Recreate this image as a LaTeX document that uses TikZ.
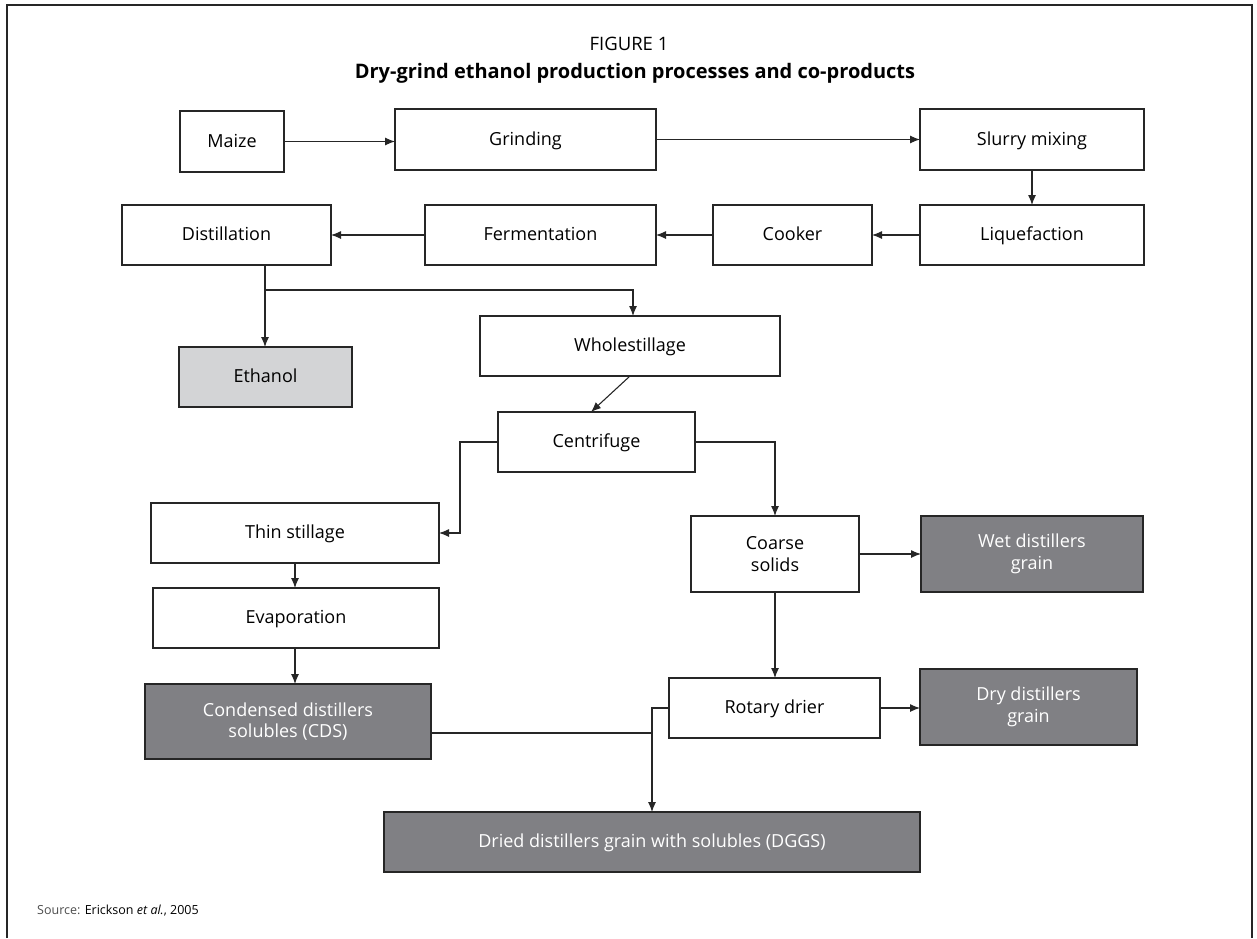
\documentclass[tikz,border=0pt]{standalone}
\usepackage{fontspec}
\setmainfont{Open Sans}
\usetikzlibrary{arrows.meta}
\definecolor{dk}{HTML}{808084}
\definecolor{lt}{HTML}{D3D4D6}
\definecolor{ln}{HTML}{262626}
\begin{document}
\begin{tikzpicture}[x=1pt,y=-1pt,
  base/.style={draw=ln,line width=1.1pt,fill=white,inner sep=0pt,outer sep=0pt,align=center,font=\fontsize{18}{21.5}\selectfont},
  box/.style={base,text height=12pt,text depth=1pt},
  twobox/.style={base},
  darkbox/.style={twobox,fill=dk,text=white},
  lightbox/.style={box,fill=lt},
  conn/.style={draw=ln,line width=1.1pt},
  arr/.style={conn,-{Latex[length=10pt,width=8pt]}}]
\useasboundingbox (0,0) rectangle (1257,938);
% frame
\draw[ln,line width=1.3pt] (7,938) -- (7,5) -- (1252,5) -- (1252,938);
% titles
\node[font=\fontsize{18.5}{22}\selectfont] (fig) at (629,44) {FIGURE 1};
\node[font=\fontsize{20}{24}\selectfont\bfseries] (title) at (635,73) {Dry-grind ethanol production processes and co-products};
% row 1
\node[box,minimum width=104pt,minimum height=61pt] (maize) at (232,141.5) {Maize};
\node[box,minimum width=261pt,minimum height=61pt] (grind) at (525.5,139.5) {Grinding};
\node[box,minimum width=224pt,minimum height=61pt] (slurry) at (1032,139.5) {Slurry mixing};
% row 2
\node[box,minimum width=224pt,minimum height=60pt] (liq) at (1032,235) {Liquefaction};
\node[box,minimum width=159pt,minimum height=60pt] (cook) at (792.5,235) {Cooker};
\node[box,minimum width=231pt,minimum height=60pt] (ferm) at (540.5,235) {Fermentation};
\node[box,minimum width=209pt,minimum height=60pt] (dist) at (226.5,235) {Distillation};
% lower
\node[lightbox,minimum width=173pt,minimum height=60pt] (eth) at (265.5,377) {Ethanol};
\node[box,minimum width=300pt,minimum height=60pt] (whole) at (630,346) {Wholestillage};
\node[box,minimum width=197pt,minimum height=60pt] (cent) at (596.5,442) {Centrifuge};
\node[box,minimum width=288pt,minimum height=60pt] (thin) at (295,533) {Thin stillage};
\node[box,minimum width=286pt,minimum height=60pt] (evap) at (296,618) {Evaporation};
\node[darkbox,minimum width=286pt,minimum height=75pt] (cds) at (288,721.5) {Condensed distillers\\solubles (CDS)};
\node[twobox,minimum width=168pt,minimum height=76pt] (coarse) at (775,554) {Coarse\\solids};
\node[darkbox,minimum width=222pt,minimum height=76pt] (wet) at (1032,554) {Wet distillers\\grain};
\node[box,minimum width=211pt,minimum height=60pt] (rot) at (774.5,708) {Rotary drier};
\node[darkbox,minimum width=217pt,minimum height=76pt] (dry) at (1028.5,707) {Dry distillers\\grain};
\node[box,fill=dk,text=white,minimum width=536pt,minimum height=60pt] (dggs) at (652,842) {Dried distillers grain with solubles (DGGS)};
% source
\node[anchor=west,font=\fontsize{12.5}{14}\selectfont,inner sep=0pt] (src) at (37,911) {{\color{black!70}Source:} Erickson \textit{et al.}, 2005};
% connectors
\draw[arr] (maize.east |- 0,141.5) -- (grind.west |- 0,141.5);
\draw[arr] (grind.east) -- (slurry.west);
\draw[arr] (slurry.south) -- (liq.north);
\draw[arr] (liq.west) -- (cook.east);
\draw[arr] (cook.west) -- (ferm.east);
\draw[arr] (ferm.west) -- (dist.east);
\coordinate (b1) at (265,290);
\draw[arr] (dist.south -| b1) -- (eth.north -| b1);
\draw[arr] (b1) -- (633,290) -- (whole.north -| 633,0);
\draw[arr] (whole.south) -- (cent.north -| 591,0);
\coordinate (c1) at (460,442);
\draw[arr] (cent.west) -- (c1) -- (c1 |- thin.east) -- (thin.east);
\draw[arr] (cent.east) -- (775,442) -- (coarse.north);
\draw[arr] (thin.south -| 295,0) -- (evap.north -| 295,0);
\draw[arr] (evap.south -| 295,0) -- (cds.north -| 295,0);
\draw[arr] (coarse.east) -- (wet.west);
\draw[arr] (coarse.south) -- (rot.north -| coarse.south);
\draw[arr] (rot.east) -- (dry.west |- rot.east);
\coordinate (j) at (652,733);
\draw[conn] (cds.east |- j) -- (j);
\draw[arr] (rot.west) -- (652,708) -- (dggs.north);
\end{tikzpicture}
\end{document}
